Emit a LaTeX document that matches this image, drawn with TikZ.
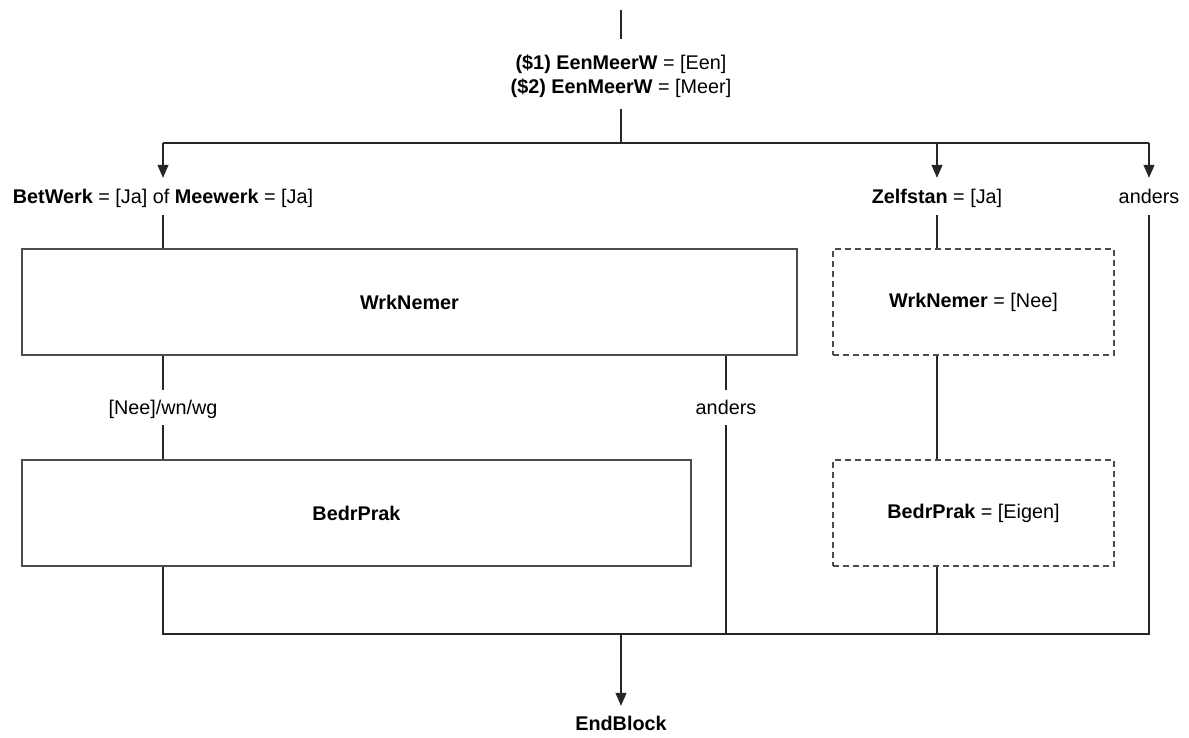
\documentclass[tikz,border=0pt]{standalone}
\usepackage{fontspec}
\setmainfont{Liberation Sans}
\usetikzlibrary{arrows.meta}
\begin{document}
\begin{tikzpicture}[x=1pt,y=-1pt,
  every node/.style={font=\fontsize{19.8}{24}\selectfont},
  conn/.style={draw=black!85, line width=1.1pt},
  arr/.style={conn, -{Triangle[length=13pt,width=11pt]}},
  lbl/.style={inner sep=0pt, align=center, text depth=0pt},
  blk/.style={draw=black!70, line width=1.1pt, inner sep=0pt},
  dblk/.style={blk, dashed, dash pattern=on 6pt off 4pt}]
\useasboundingbox (0,0) rectangle (1189,738);
% top
\coordinate (start) at (621,10);
\node[lbl, minimum height=70pt] (cond) at (621,74) {\textbf{(\$1) EenMeerW} = [Een]\\\textbf{(\$2) EenMeerW} = [Meer]};
\draw[conn, line width=1.8pt] (start) -- (cond.north);
\coordinate (split) at (621,143);
\draw[conn] (cond.south) -- (split);
% branch labels
\node[lbl, minimum height=37pt] (bw) at (163,196.5) {\textbf{BetWerk} = [Ja] of \textbf{Meewerk} = [Ja]};
\node[lbl, minimum height=37pt] (zs) at (937,196.5) {\textbf{Zelfstan} = [Ja]};
\node[lbl, minimum height=37pt] (an1) at (1149,196.5) {anders};
\draw[conn] (bw.north |- split) -- (an1.north |- split);
\draw[arr] (bw.north |- split) -- (bw.north);
\draw[arr] (zs.north |- split) -- (zs.north);
\draw[arr] (an1.north |- split) -- (an1.north);
% boxes
\node[blk, minimum width=775pt, minimum height=106pt] (wn) at (409.5,302) {\textbf{WrkNemer}};
\node[dblk, minimum width=281pt, minimum height=106pt] (wnn) at (973.5,302) {\textbf{WrkNemer} = [Nee]};
\node[blk, minimum width=669pt, minimum height=106pt] (bp) at (356.5,513) {\textbf{BedrPrak}};
\node[dblk, minimum width=281pt, minimum height=106pt] (bpe) at (973.5,513) {\textbf{BedrPrak} = [Eigen]};
\draw[conn] (bw.south) -- (bw.south |- wn.north);
\draw[conn] (zs.south) -- (zs.south |- wnn.north);
\draw[conn] (zs.south |- wnn.south) -- (zs.south |- bpe.north);
% inner labels
\node[lbl, minimum height=35pt] (nee) at (163,407.5) {[Nee]/wn/wg};
\node[lbl, minimum height=35pt] (an2) at (726,407.5) {anders};
\draw[conn] (nee.north |- wn.south) -- (nee.north);
\draw[conn] (nee.south) -- (nee.south |- bp.north);
\draw[conn] (an2.north |- wn.south) -- (an2.north);
% merge
\coordinate (merge) at (621,634);
\draw[conn] (nee.south |- bp.south) -- (nee.south |- merge) -- (an1.south |- merge) -- (an1.south);
\draw[conn] (an2.south) -- (an2.south |- merge);
\draw[conn] (zs.south |- bpe.south) -- (zs.south |- merge);
\node[lbl, minimum height=34pt] (end) at (621,723) {\textbf{EndBlock}};
\draw[arr] (merge) -- (end.north);
\end{tikzpicture}
\end{document}
